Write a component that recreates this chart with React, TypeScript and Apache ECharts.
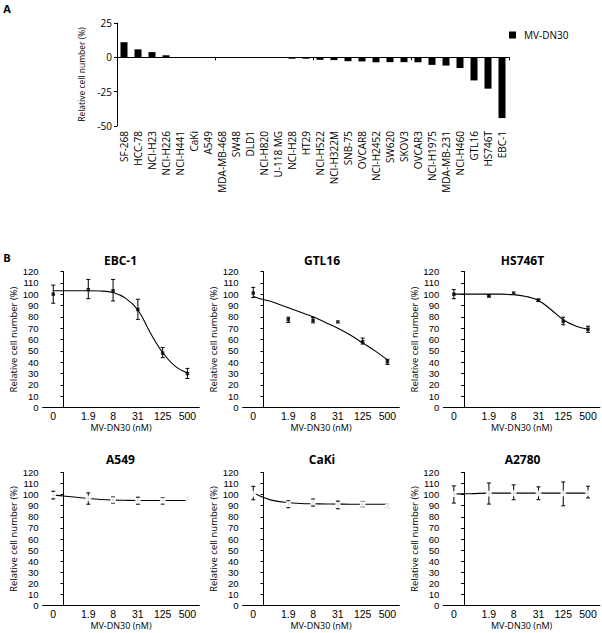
import React, { useEffect, useRef } from "react";
import * as echarts from "echarts";

// ---------- Panel A data ----------
const cellLines = [
  "SF-268", "HCC-78", "NCI-H23", "NCI-H226", "NCI-H441", "CaKi", "A549", "MDA-MB-468",
  "SW48", "DLD1", "NCI-H820", "U-118 MG", "NCI-H28", "HT29", "NCI-H522", "NCI-H322M",
  "SNB-75", "OVCAR8", "NCI-H2452", "SW620", "SKOV3", "OVCAR3", "NCI-H1975", "MDA-MB-231",
  "NCI-H460", "GTL16", "HS746T", "EBC-1",
];
const relCellNumber = [
  11, 5.8, 3.8, 1.5, 0.1, 0.1, 0.1, -0.3, -0.3, -0.4, -0.5, -0.5, -1, -1, -1.8, -2,
  -2.8, -3, -3.6, -3.5, -3.5, -3.6, -5.5, -6, -7.8, -16.8, -22.8, -44.2,
];
const seriesNameA = "MV-DN30";

// ---------- Panel B data ----------
const panelTitles = ["EBC-1", "GTL16", "HS746T", "A549", "CaKi", "A2780"];
const concLabels = ["0", "1.9", "8", "31", "125", "500"];
const concValues = [0, 1.95, 7.8, 31.25, 125, 500];
const curveConc = [0, 0.4, 0.75, 1.95, 3.9, 7.8, 15.6, 31.25, 62.5, 125, 250, 500];

const meanEBC1 = [100, 104, 103, 86.5, 48, 30];
const loEBC1 = [92, 96, 94, 77.7, 44, 25.6];
const hiEBC1 = [108, 113, 113, 95.5, 53, 34.5];
const curveEBC1 = [103, 103, 103, 103, 102.8, 101.5, 96.5, 86, 66, 48.5, 36.5, 30.5];

const meanGTL16 = [101, 77.5, 77, 75.5, 58, 40.4];
const loGTL16 = [97, 75, 74.7, 75.5, 56, 38];
const hiGTL16 = [106, 79.7, 79.5, 75.5, 61.3, 42.5];
const curveGTL16 = [98, 96, 93.5, 88, 84, 80, 75, 70, 64, 57, 50, 42];

const meanHS746T = [100, 98.5, 101, 94.5, 76, 69];
const loHS746T = [96, 97.5, 101, 93.5, 73, 66.3];
const hiHS746T = [104, 99.5, 101, 95.8, 79.7, 71.7];
const curveHS746T = [100, 100, 100, 100, 100, 99.5, 98, 94.5, 86.5, 77.5, 72, 69];

const meanA549 = [99.5, 96.5, 95, 94.4, 94.4, 96.5];
const loA549 = [96, 91.3, 92.3, 91.3, 91.4, 95.5];
const hiA549 = [103, 101.5, 97.8, 97.6, 97, 97.5];
const curveA549 = [99.5, 99, 98, 96.4, 95.5, 95, 94.8, 94.7, 94.7, 94.7, 94.7, 94.7];

const meanCaKi = [100.6, 91.4, 92.9, 90.5, 91.4, 89.6];
const loCaKi = [95.3, 88.1, 89.6, 87.2, 89, 88];
const hiCaKi = [107.4, 94.4, 96, 94.1, 93.8, 91.3];
const curveCaKi = [102, 98.6, 95, 92.6, 92, 91.7, 91.5, 91.4, 91.3, 91.3, 91.2, 91.2];

const meanA2780 = [100.4, 100.9, 101.2, 101, 101, 101.2];
const loA2780 = [92.3, 91.4, 95.3, 95.3, 89.9, 96.9];
const hiA2780 = [107.8, 110.4, 108.7, 106.9, 111.3, 107.5];
const curveA2780 = [100.4, 100.6, 100.8, 101.3, 101.3, 101.3, 101.3, 101.3, 101.3, 101.3, 101.3, 101.3];

const panels = [
  { mean: meanEBC1, lo: loEBC1, hi: hiEBC1, curve: curveEBC1 },
  { mean: meanGTL16, lo: loGTL16, hi: hiGTL16, curve: curveGTL16 },
  { mean: meanHS746T, lo: loHS746T, hi: hiHS746T, curve: curveHS746T },
  { mean: meanA549, lo: loA549, hi: hiA549, curve: curveA549 },
  { mean: meanCaKi, lo: loCaKi, hi: hiCaKi, curve: curveCaKi },
  { mean: meanA2780, lo: loA2780, hi: hiA2780, curve: curveA2780 },
];

// log4 dose axis with a break for the 0 dose
const ZERO_POS = -0.414;
const toPos = (c: number) => (c === 0 ? ZERO_POS : Math.log(c / 1.95) / Math.log(4) + 1);

const FONT = "'Open Sans', 'Noto Sans', sans-serif";
const TICK_FONT = "'Liberation Sans', Arial, sans-serif";

export default function App() {
  const ref = useRef<HTMLDivElement>(null);
  useEffect(() => {
    if (!ref.current) return;
    const chart = echarts.init(ref.current, null, { renderer: "svg" });

    const lefts = [42.7, 242.7, 443.3];
    const rowTop = [271.5, 472.3];
    const rowH = [136, 133.4];
    const gw = 156.6;

    const grids: any[] = [{ left: 117, top: 23, width: 392, height: 103 }];
    for (let i = 0; i < 6; i++) {
      const r = Math.floor(i / 3);
      grids.push({ left: lefts[i % 3], top: rowTop[r], width: gw, height: rowH[r] });
    }

    const black = "#000";
    const xAxes: any[] = [
      {
        type: "category", gridIndex: 0, data: cellLines, position: "top",
        axisLine: { onZero: true, lineStyle: { color: black, width: 1 } },
        axisTick: { show: true, inside: true, length: 3, lineStyle: { color: black } },
        axisLabel: { show: false },
      },
      {
        type: "category", gridIndex: 0, data: cellLines, position: "bottom",
        axisLine: { show: false, onZero: false }, axisTick: { show: false },
        axisLabel: { rotate: 90, margin: 5, fontSize: 10, color: black, fontFamily: FONT, interval: 0 },
      },
    ];
    const yAxes: any[] = [
      {
        type: "value", gridIndex: 0, min: -50, max: 25, interval: 25,
        name: "Relative cell number (%)", nameLocation: "middle", nameGap: 27,
        nameTextStyle: { fontSize: 8.5, color: black, fontFamily: FONT },
        axisLine: { show: true, lineStyle: { color: black } },
        axisTick: { show: true, length: 3, lineStyle: { color: black } },
        axisLabel: { fontSize: 10, color: black, margin: 5, fontFamily: FONT },
        splitLine: { show: false },
      },
    ];
    const labelPositions = concValues.map(toPos);
    for (let i = 0; i < 6; i++) {
      xAxes.push({
        type: "value", gridIndex: i + 1, min: -0.84, max: 5.48,
        name: "MV-DN30 (nM)", nameLocation: "middle", nameGap: 15.5,
        nameTextStyle: { fontSize: 9, color: black, fontFamily: FONT },
        axisLine: { show: true, onZero: false, lineStyle: { color: black } },
        axisTick: { show: false },
        splitLine: { show: false },
        axisLabel: {
          customValues: labelPositions,
          fontSize: 10.5, lineHeight: 10.5, color: black, margin: 3, fontFamily: TICK_FONT,
          formatter: (v: number) => {
            const k = labelPositions.findIndex((p) => Math.abs(p - v) < 0.01);
            return k >= 0 ? concLabels[k] : "";
          },
        },
      });
      yAxes.push({
        type: "value", gridIndex: i + 1, min: 0, max: 120, interval: 10,
        name: "Relative cell number (%)", nameLocation: "middle", nameGap: 22,
        nameTextStyle: { fontSize: 9.5, color: black, fontFamily: FONT },
        axisLine: { show: true, lineStyle: { color: black } },
        axisTick: { show: true, length: 3, lineStyle: { color: black } },
        axisLabel: { fontSize: 9.6, lineHeight: 9.6, color: black, margin: 4, fontFamily: TICK_FONT },
        splitLine: { show: false },
      });
    }

    const series: any[] = [
      {
        type: "bar", name: seriesNameA, xAxisIndex: 0, yAxisIndex: 0,
        data: relCellNumber, barWidth: 7, itemStyle: { color: black },
      },
    ];
    panels.forEach((p, i) => {
      const bottom = i >= 3;
      series.push({
        type: "line", name: panelTitles[i] + " fit", xAxisIndex: i + 2, yAxisIndex: i + 1,
        data: curveConc.map((c, k) => [toPos(c), p.curve[k]]),
        smooth: 0.4, showSymbol: false,
        lineStyle: { color: black, width: 1.1 }, z: 2,
      });
      series.push({
        type: "custom", name: panelTitles[i] + " err", xAxisIndex: i + 2, yAxisIndex: i + 1,
        data: concValues.map((c, k) => [toPos(c), p.lo[k], p.hi[k]]),
        encode: { x: 0, y: [1, 2] },
        renderItem: (params: any, api: any) => {
          const x = api.value(0), lo = api.value(1), hi = api.value(2);
          if (Math.abs(hi - lo) < 0.1) return { type: "group", children: [] };
          const a = api.coord([x, lo]);
          const b = api.coord([x, hi]);
          const w = 2;
          const st = { stroke: black, lineWidth: 1 };
          return {
            type: "group",
            children: [
              { type: "line", shape: { x1: a[0], y1: a[1], x2: b[0], y2: b[1] }, style: st },
              { type: "line", shape: { x1: a[0] - w, y1: a[1], x2: a[0] + w, y2: a[1] }, style: st },
              { type: "line", shape: { x1: b[0] - w, y1: b[1], x2: b[0] + w, y2: b[1] }, style: st },
            ],
          };
        },
        z: 3,
      });
      series.push({
        type: "scatter", name: panelTitles[i] + " pts", xAxisIndex: i + 2, yAxisIndex: i + 1,
        data: concValues.map((c, k) => [toPos(c), p.mean[k]]),
        symbol: bottom ? "emptyCircle" : "rect", symbolSize: bottom ? 4 : 3.5,
        itemStyle: { color: bottom ? "#fff" : black, borderColor: black, borderWidth: bottom ? 1 : 0 },
        z: 4,
      });
    });

    const titleCenters = [
      [120.5, 260.5], [322, 260.5], [522.5, 260.5],
      [120.5, 459.2], [322, 459.2], [522.5, 459.2],
    ];
    const graphic: any[] = [
      { type: "text", x: 7, y: 8.5, style: { text: "A", font: `bold 11px ${FONT}`, fill: black, textAlign: "center", textVerticalAlign: "middle" } },
      { type: "text", x: 7, y: 257, style: { text: "B", font: `bold 11px ${FONT}`, fill: black, textAlign: "center", textVerticalAlign: "middle" } },
      ...panelTitles.map((t, i) => ({
        type: "text", x: titleCenters[i][0], y: titleCenters[i][1],
        style: { text: t, font: `bold 12px ${FONT}`, fill: black, textAlign: "center", textVerticalAlign: "middle" },
      })),
    ];

    chart.setOption({
      animation: false,
      backgroundColor: "#fff",
      textStyle: { fontFamily: FONT },
      grid: grids,
      xAxis: xAxes,
      yAxis: yAxes,
      series,
      legend: {
        data: [{ name: seriesNameA, icon: "rect" }],
        left: 504, top: 25, itemWidth: 7, itemHeight: 7, itemGap: 5,
        textStyle: { fontSize: 10, color: black, fontFamily: FONT, padding: [0, 0, 0, 3] },
      },
      graphic,
    });
    return () => chart.dispose();
  }, []);

  return (
    <div
      ref={ref}
      style={{ position: "absolute", left: 0, top: 0, width: 602, height: 633, background: "#fff" }}
    />
  );
}
